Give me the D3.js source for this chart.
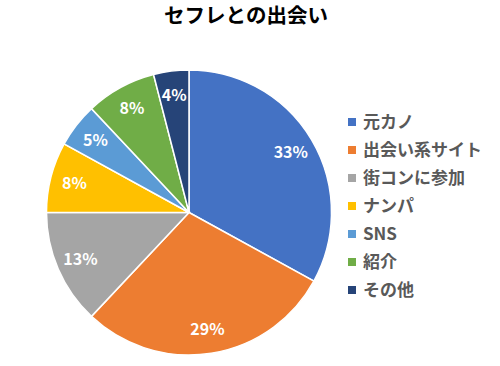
<!DOCTYPE html>
<html>
<head>
<meta charset="utf-8">
<script src="https://cdn.jsdelivr.net/npm/d3@7"></script>
<style>
  body { margin: 0; background: #fff; }
  text { font-family: "Noto Sans CJK JP", "Noto Sans", sans-serif; }
</style>
</head>
<body>
<div id="chart"></div>
<script>
var width = 500;
var height = 366;

var categories = ["元カノ", "出会い系サイト", "街コンに参加", "ナンパ", "SNS", "紹介", "その他"];
var values = [33, 29, 13, 8, 5, 8, 4];
var colors = ["#4472C4", "#ED7D31", "#A5A5A5", "#FFC000", "#5B9BD5", "#70AD47", "#264478"];

var data = categories.map((c, i) => ({ name: c, value: values[i] }));

var color = d3.scaleOrdinal().domain(categories).range(colors);

var svg = d3.select("#chart").append("svg")
  .attr("width", width)
  .attr("height", height);

svg.append("text")
  .attr("x", 246)
  .attr("y", 23)
  .attr("text-anchor", "middle")
  .attr("font-size", 20.5)
  .attr("font-weight", "bold")
  .attr("fill", "#000")
  .text("セフレとの出会い");

var cx = 189, cy = 212.5, r = 142.5;

var pie = d3.pie().value(d => d.value).sort(null);
var arc = d3.arc().innerRadius(0).outerRadius(r);
var labelArc = d3.arc().innerRadius(r * 0.83).outerRadius(r * 0.83);

var g = svg.append("g").attr("transform", `translate(${cx},${cy})`);
var arcs = pie(data);

g.selectAll("path")
  .data(arcs)
  .join("path")
  .attr("d", arc)
  .attr("fill", d => color(d.data.name))
  .attr("stroke", "#fff")
  .attr("stroke-width", 1.5);

g.selectAll("text")
  .data(arcs)
  .join("text")
  .attr("transform", d => `translate(${labelArc.centroid(d)})`)
  .attr("text-anchor", "middle")
  .attr("dy", "0.35em")
  .attr("font-size", 16)
  .attr("font-weight", "bold")
  .attr("fill", "#fff")
  .text(d => d.data.value + "%");

// 凡例
var legend = svg.append("g")
  .selectAll("g")
  .data(categories)
  .join("g")
  .attr("transform", (d, i) => `translate(348,${122 + i * 28})`);

legend.append("rect")
  .attr("x", 0)
  .attr("y", -4)
  .attr("width", 8)
  .attr("height", 8)
  .attr("fill", d => color(d));

legend.append("text")
  .attr("x", 15)
  .attr("y", 0)
  .attr("dy", "0.35em")
  .attr("font-size", 17)
  .attr("font-weight", "bold")
  .attr("fill", "#595959")
  .text(d => d);
</script>
</body>
</html>
